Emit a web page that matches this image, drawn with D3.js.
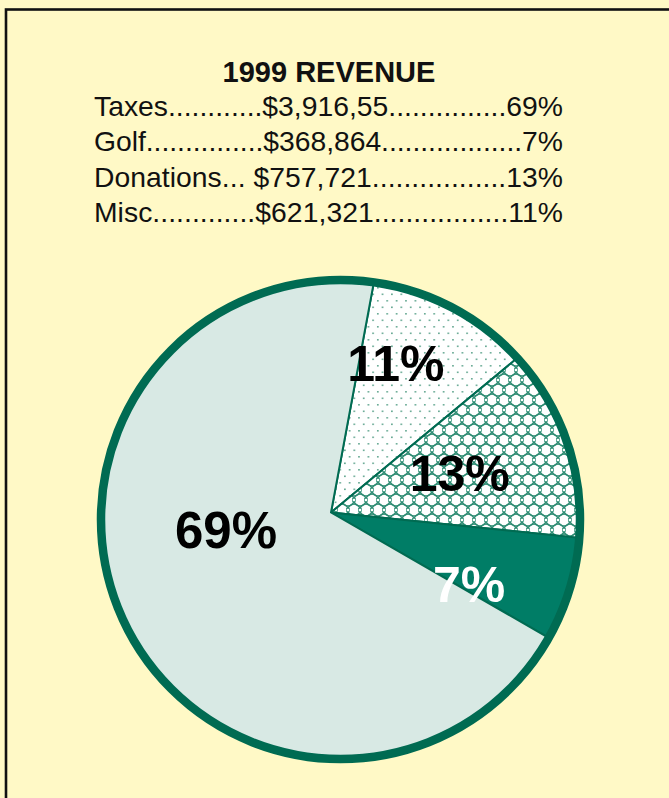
<!DOCTYPE html>
<html>
<head>
<meta charset="utf-8">
<script src="https://cdn.jsdelivr.net/npm/d3@7/dist/d3.min.js"></script>
<style>
  html, body { margin: 0; padding: 0; background: #FFF9C6; }
  svg { display: block; }
</style>
</head>
<body>
<script>
// ---- data ----
const title = "1999 REVENUE";
const categories = ["Taxes", "Golf", "Donations", "Misc"];
const amounts = ["$3,916,55", "$368,864", "$757,721", "$621,321"];
const percents = [69, 7, 13, 11];
// legend rows as printed (leader dots)
const legendNames = ["Taxes............", "Golf...............", "Donations... ", "Misc............."];
const legendMids = ["...............", "..................", ".................", "................."];
// clockwise order of slices from the top
const pieOrder = ["Misc", "Donations", "Golf", "Taxes"];

// ---- layout ----
const W = 669, H = 798;
const cx = 340.5, cy = 519.5, R = 239.5;
const apex = [331, 512.5];
const font = "'Liberation Sans', Arial, Helvetica, sans-serif";
const dark = "#006B52", mid = "#007D66", light = "#D8E9E4";

const svg = d3.select("body").append("svg").attr("width", W).attr("height", H);
const defs = svg.append("defs");

// dotted pattern
const pd = defs.append("pattern").attr("id", "dots").attr("patternUnits", "userSpaceOnUse")
  .attr("width", 9.4).attr("height", 13);
pd.append("rect").attr("width", 9.4).attr("height", 13).attr("fill", "#fff");
pd.append("rect").attr("x", 1).attr("y", 1).attr("width", 1.6).attr("height", 1.6).attr("fill", "#5FA58E");
pd.append("rect").attr("x", 5.7).attr("y", 7.5).attr("width", 1.6).attr("height", 1.6).attr("fill", "#5FA58E");

// circle mesh pattern
const pc = defs.append("pattern").attr("id", "mesh").attr("patternUnits", "userSpaceOnUse")
  .attr("width", 12).attr("height", 20);
pc.append("rect").attr("width", 12).attr("height", 20).attr("fill", "#fff");
[[0,0],[12,0],[6,10],[0,20],[12,20]].forEach(([x,y]) => {
  pc.append("circle").attr("cx", x).attr("cy", y).attr("r", 6)
    .attr("fill", "none").attr("stroke", "#2E8C73").attr("stroke-width", 1.3);
});
[[6,0],[0,10],[12,10],[6,20]].forEach(([x,y]) => {
  pc.append("rect").attr("x", x-1.5).attr("y", y-1.5).attr("width", 3).attr("height", 3)
    .attr("fill", "#fff").attr("stroke", "#3C977E").attr("stroke-width", 0.8);
});

// frame
svg.append("rect").attr("x", 6).attr("y", 9.5).attr("width", W + 20).attr("height", H + 20)
  .attr("fill", "#FFF9C6").attr("stroke", "#111").attr("stroke-width", 2.6);

// title
svg.append("text").attr("x", 329).attr("y", 82).attr("text-anchor", "middle")
  .attr("font-family", font).attr("font-weight", "bold").attr("font-size", 29)
  .attr("fill", "#111").text(title);

// legend rows
const rowY = [116, 151, 187, 222];
categories.forEach((c, i) => {
  svg.append("text").attr("x", 94).attr("y", rowY[i])
    .attr("font-family", font).attr("font-size", 28.3).attr("fill", "#111")
    .attr("textLength", 469).attr("lengthAdjust", "spacing")
    .text(legendNames[i] + amounts[i] + legendMids[i] + percents[i] + "%");
});

// pie
const byName = Object.fromEntries(categories.map((c, i) => [c, percents[i]]));
const ordered = pieOrder.map(n => ({ name: n, value: byName[n] }));
const start = 8 * Math.PI / 180;
const pie = d3.pie().sort(null).value(d => d.value).startAngle(start).endAngle(start + 2 * Math.PI);
const arcs = pie(ordered);

const fills = { Taxes: light, Golf: mid, Donations: "url(#mesh)", Misc: "url(#dots)" };
const pt = a => [cx + R * Math.sin(a), cy - R * Math.cos(a)];

function slicePath(d) {
  const p = d3.path();
  const a0 = d.startAngle, a1 = d.endAngle;
  const [x0, y0] = pt(a0);
  p.moveTo(apex[0], apex[1]);
  p.lineTo(x0, y0);
  p.arc(cx, cy, R, a0 - Math.PI / 2, a1 - Math.PI / 2, false);
  p.closePath();
  return p.toString();
}

svg.append("circle").attr("cx", cx).attr("cy", cy).attr("r", R).attr("fill", light);

svg.append("g").selectAll("path").data(arcs).join("path")
  .attr("d", slicePath)
  .attr("fill", d => fills[d.data.name])
  .attr("stroke", dark).attr("stroke-width", 2).attr("stroke-linejoin", "round");

svg.append("circle").attr("cx", cx).attr("cy", cy).attr("r", R)
  .attr("fill", "none").attr("stroke", dark).attr("stroke-width", 8.5);

// labels (placement around pie centre: angle deg, radius)
const labelPolar = { Misc: [19.5, 166], Donations: [68.7, 128], Golf: [116.7, 144], Taxes: [264.8, 115] };
const labelColor = { Misc: "#000", Donations: "#000", Golf: "#fff", Taxes: "#000" };
const labelSize = { Misc: 50, Donations: 50, Golf: 50, Taxes: 51 };
svg.append("g").selectAll("text").data(arcs).join("text")
  .attr("x", d => cx + labelPolar[d.data.name][1] * Math.sin(labelPolar[d.data.name][0] * Math.PI / 180))
  .attr("y", d => cy - labelPolar[d.data.name][1] * Math.cos(labelPolar[d.data.name][0] * Math.PI / 180))
  .attr("dy", "0.36em")
  .attr("text-anchor", "middle")
  .attr("font-family", font).attr("font-weight", "bold")
  .attr("font-size", d => labelSize[d.data.name])
  .attr("fill", d => labelColor[d.data.name])
  .text(d => d.data.value + "%");
</script>
</body>
</html>
